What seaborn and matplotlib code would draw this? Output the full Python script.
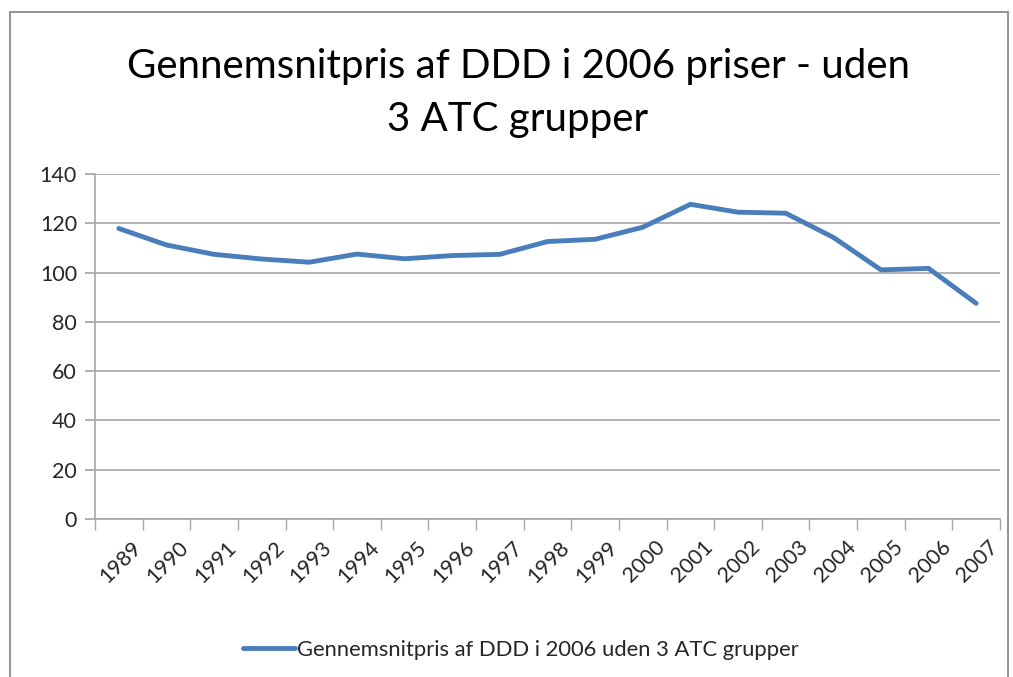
import matplotlib
matplotlib.use("Agg")
import matplotlib.pyplot as plt
import matplotlib.patches as mpatches
import matplotlib.transforms as mtransforms
import numpy as np
import pandas as pd
import seaborn as sns


years = ["1989", "1990", "1991", "1992", "1993", "1994", "1995", "1996",
         "1997", "1998", "1999", "2000", "2001", "2002", "2003", "2004",
         "2005", "2006", "2007"]
prices = [117.9, 111.2, 107.4, 105.5, 104.2, 107.5, 105.6, 106.9, 107.4,
          112.6, 113.5, 118.4, 127.7, 124.5, 124.1, 114.3, 101.1, 101.7, 87.5]
y_ticks = [0, 20, 40, 60, 80, 100, 120, 140]

title = "Gennemsnitpris af DDD i 2006 priser - uden\n3 ATC grupper"
series_name = "Gennemsnitpris af DDD i 2006 uden 3 ATC grupper"

sns.set_theme(style="white")
plt.rcParams["font.family"] = ["Lato", "DejaVu Sans"]

data = pd.DataFrame({"year": years, "price": prices})

fig = plt.figure(figsize=(10.13, 6.77), dpi=100)
ax = fig.add_axes([95 / 1013, 1 - 519 / 677, 905 / 1013, 345 / 677])

sns.lineplot(data=data, x="year", y="price", color="#4A7EBB",
             linewidth=3.5, label=series_name, ax=ax)

ax.set_xlim(-0.5, len(years) - 0.5)
ax.set_ylim(0, 140)
ax.set_yticks(y_ticks)
ax.set_xlabel("")
ax.set_ylabel("")

# gridlines and spines like an Excel chart
ax.yaxis.grid(True, color="#A6A6A6", linewidth=1.2)
ax.xaxis.grid(False)
for side in ["top", "right"]:
    ax.spines[side].set_visible(False)
for side in ["left", "bottom"]:
    ax.spines[side].set_color("#A6A6A6")
    ax.spines[side].set_linewidth(1.2)

# category ticks sit between the categories
ax.set_xticks(np.arange(len(years)))
ax.set_xticklabels(years, rotation=45, ha="right", rotation_mode="anchor")
ax.set_xticks(np.arange(len(years) + 1) - 0.5, minor=True)
ax.tick_params(axis="x", which="major", length=0, pad=13, labelsize=15.5,
               colors="#262626")
ax.tick_params(axis="x", which="minor", length=8, color="#A6A6A6",
               direction="out", bottom=True)
ax.tick_params(axis="y", length=7, color="#A6A6A6", direction="out",
               left=True, labelsize=15.5, pad=6, colors="#262626")
shift = mtransforms.ScaledTranslation(12 / 100, 0, fig.dpi_scale_trans)
for lbl in ax.get_xticklabels():
    lbl.set_transform(lbl.get_transform() + shift)

ax.legend_.remove()
handles, labels = ax.get_legend_handles_labels()
fig.legend(handles, labels, loc="center", bbox_to_anchor=(521 / 1013, 1 - 650 / 677),
           frameon=False, fontsize=15.8, handlelength=2.35, handletextpad=0.1)

fig.text(518 / 1013, 1 - 93 / 677, title, ha="center", va="center",
         fontsize=29, linespacing=1.55, color="black")

# outer chart frame
fig.patches.append(mpatches.Rectangle(
    (10 / 1013, -0.05), 998 / 1013, 1 - 12 / 677 + 0.05,
    transform=fig.transFigure, fill=False, edgecolor="#808080", linewidth=1.2))

fig.savefig("out.png", dpi=100, facecolor="white")
